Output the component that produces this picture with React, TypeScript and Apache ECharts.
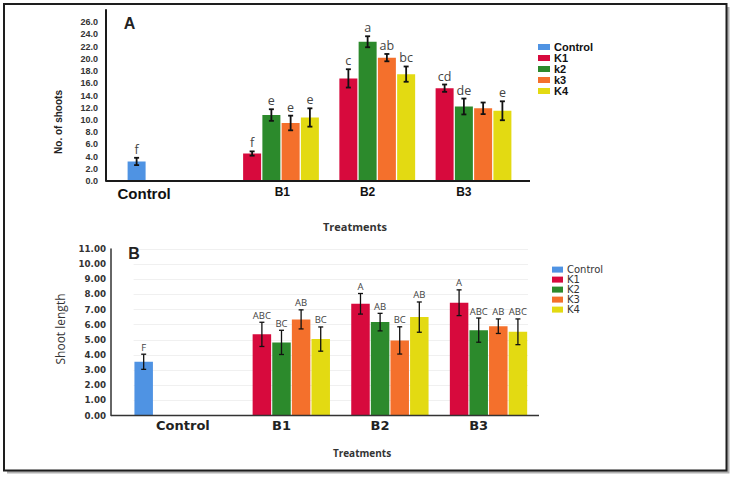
import React, { useEffect, useRef } from "react";
import * as echarts from "echarts";

const categories = ["Control", "B1", "B2", "B3"];

// Panel A: No. of shoots
const namesA = ["Control", "K1", "k2", "k3", "K4"];
const controlA = [3.2, null, null, null];
const k1A = [null, 4.5, 16.8, 15.2];
const k2A = [null, 10.8, 22.8, 12.2];
const k3A = [null, 9.5, 20.2, 11.9];
const k4A = [null, 10.4, 17.5, 11.5];
const controlAErr = [0.6, null, null, null];
const k1AErr = [null, 0.35, 1.5, 0.6];
const k2AErr = [null, 0.95, 0.9, 1.3];
const k3AErr = [null, 1.2, 0.6, 0.95];
const k4AErr = [null, 1.5, 1.25, 1.55];
const controlALetters = ["f", "", "", ""];
const k1ALetters = ["", "f", "c", "cd"];
const k2ALetters = ["", "e", "a", "de"];
const k3ALetters = ["", "e", "ab", ""];
const k4ALetters = ["", "e", "bc", "e"];

// Panel B: Shoot length
const namesB = ["Control", "K1", "K2", "K3", "K4"];
const controlB = [3.55, null, null, null];
const k1B = [null, 5.36, 7.38, 7.45];
const k2B = [null, 4.83, 6.17, 5.64];
const k3B = [null, 6.35, 4.96, 5.9];
const k4B = [null, 5.05, 6.5, 5.53];
const controlBErr = [0.5, null, null, null];
const k1BErr = [null, 0.8, 0.68, 0.85];
const k2BErr = [null, 0.8, 0.58, 0.8];
const k3BErr = [null, 0.63, 0.9, 0.48];
const k4BErr = [null, 0.8, 1.0, 0.85];
const controlBLetters = ["F", "", "", ""];
const k1BLetters = ["", "ABC", "A", "A"];
const k2BLetters = ["", "BC", "AB", "ABC"];
const k3BLetters = ["", "AB", "BC", "AB"];
const k4BLetters = ["", "BC", "AB", "ABC"];

const colors = ["#4f93e3", "#d70a3d", "#2c8a2c", "#f4702c", "#e3da12"];

const ARIAL = "'Liberation Sans', Arial, sans-serif";
const OPEN = "'Open Sans', 'Noto Sans', sans-serif";
const DEJAVU = "'DejaVu Sans', Verdana, sans-serif";

const BAR_W_A = 18;
const GAP_A = 0.07;
const BAR_W_B = 18.5;
const GAP_B = 0.06;

function barSeries(name: string, data: (number | null)[], idx: number, panel: number) {
  return {
    type: "bar",
    name,
    xAxisIndex: panel,
    yAxisIndex: panel,
    data: data.map((v) => (v == null ? "-" : v)),
    barWidth: panel === 0 ? BAR_W_A : BAR_W_B,
    barGap: panel === 0 ? GAP_A * 100 + "%" : GAP_B * 100 + "%",
    itemStyle: { color: colors[idx] },
    z: 2,
  };
}

function errSeries(
  data: (number | null)[],
  errs: (number | null)[],
  letters: string[],
  idx: number,
  panel: number
) {
  const items: any[] = [];
  const labs: string[] = [];
  data.forEach((v, i) => {
    if (v != null) {
      items.push([i, v, errs[i] ?? 0]);
      labs.push(letters[i] || "");
    }
  });
  const barW = panel === 0 ? BAR_W_A : BAR_W_B;
  const gap = panel === 0 ? GAP_A : GAP_B;
  const capW = panel === 0 ? 2.5 : 2.5;
  const lw = panel === 0 ? 1.8 : 1.3;
  const fontSize = panel === 0 ? 12.5 : 9.5;
  return {
    type: "custom",
    xAxisIndex: panel,
    yAxisIndex: panel,
    z: 5,
    data: items,
    renderItem: (params: any, api: any) => {
      const ci = api.value(0);
      const v = api.value(1);
      const e = api.value(2);
      const c = api.coord([ci, v]);
      const slot = barW * (1 + gap);
      const x = c[0] + (idx - 2) * slot;
      const yT = api.coord([ci, v + e])[1];
      const yB = api.coord([ci, v - e])[1];
      const st = { stroke: "#111", lineWidth: lw };
      return {
        type: "group",
        children: [
          { type: "line", shape: { x1: x, y1: yT, x2: x, y2: yB }, style: st },
          { type: "line", shape: { x1: x - capW, y1: yT, x2: x + capW, y2: yT }, style: st },
          { type: "line", shape: { x1: x - capW, y1: yB, x2: x + capW, y2: yB }, style: st },
          {
            type: "text",
            style: {
              text: labs[params.dataIndex],
              x: x,
              y: yT - 2,
              align: "center",
              verticalAlign: "bottom",
              fontSize,
              fontFamily: OPEN,
              fill: "#444",
            },
          },
        ],
      };
    },
  };
}

export default function App() {
  const ref = useRef<HTMLDivElement>(null);
  useEffect(() => {
    if (!ref.current) return;
    const chart = echarts.init(ref.current, null, { renderer: "svg" });
    const valsA = [controlA, k1A, k2A, k3A, k4A];
    const errsA = [controlAErr, k1AErr, k2AErr, k3AErr, k4AErr];
    const letA = [controlALetters, k1ALetters, k2ALetters, k3ALetters, k4ALetters];
    const valsB = [controlB, k1B, k2B, k3B, k4B];
    const errsB = [controlBErr, k1BErr, k2BErr, k3BErr, k4BErr];
    const letB = [controlBLetters, k1BLetters, k2BLetters, k3BLetters, k4BLetters];
    const labelKeys: Record<string, string> = { Control: "c", B1: "b1", B2: "b", B3: "b" };

    const series: any[] = [];
    namesA.forEach((n, i) => series.push(barSeries(n, valsA[i], i, 0)));
    namesB.forEach((n, i) => series.push(barSeries(n, valsB[i], i, 1)));
    namesA.forEach((n, i) => series.push(errSeries(valsA[i], errsA[i], letA[i], i, 0)));
    namesB.forEach((n, i) => series.push(errSeries(valsB[i], errsB[i], letB[i], i, 1)));

    chart.setOption({
      animation: false,
      backgroundColor: "#ffffff",
      grid: [
        { left: 127, top: 10, width: 385, height: 171 },
        { left: 133.6, top: 249, width: 394.4, height: 166.5 },
      ],
      xAxis: [
        {
          type: "category",
          gridIndex: 0,
          data: categories,
          axisLine: { show: false },
          axisTick: { show: false },
          axisLabel: {
            margin: 5,
            formatter: (v: string) => `{${labelKeys[v]}|${v}}`,
            rich: {
              c: { fontSize: 15, fontWeight: "bold", fontFamily: ARIAL, color: "#111", padding: [0, 62, 0, 0] },
              b1: { fontSize: 12, fontWeight: "bold", fontFamily: ARIAL, color: "#111", padding: [0, 0, 0, 22] },
              b: { fontSize: 12, fontWeight: "bold", fontFamily: ARIAL, color: "#111" },
            },
          },
        },
        {
          type: "category",
          gridIndex: 1,
          data: categories,
          axisLine: { show: false },
          axisTick: { show: false },
          axisLabel: {
            margin: 3,
            fontSize: 13,
            fontWeight: "bold",
            fontFamily: DEJAVU,
            color: "#222",
          },
        },
      ],
      yAxis: [
        {
          type: "value",
          gridIndex: 0,
          min: 0,
          max: 28,
          interval: 2,
          offset: 21,
          axisLine: { show: true, lineStyle: { color: "#1a1a1a", width: 2 } },
          axisTick: { show: false },
          splitLine: { show: false },
          axisLabel: {
            margin: 8,
            fontSize: 9,
            fontWeight: "bold",
            fontFamily: ARIAL,
            color: "#333",
            formatter: (v: number) => (v > 26 ? "" : v.toFixed(1)),
          },
        },
        {
          type: "value",
          gridIndex: 1,
          min: 0,
          max: 11,
          interval: 1,
          offset: 22.6,
          axisLine: { show: true, lineStyle: { color: "#333", width: 1.5 } },
          axisTick: { show: false },
          splitLine: { show: true, lineStyle: { color: "#f0f0f0", width: 1 } },
          axisLabel: {
            margin: 5,
            fontSize: 8.7,
            fontWeight: "bold",
            fontFamily: DEJAVU,
            color: "#333",
            formatter: (v: number) => v.toFixed(2),
          },
        },
      ],
      legend: [
        {
          orient: "vertical",
          left: 538,
          top: 41.5,
          padding: 0,
          itemWidth: 12,
          itemHeight: 6,
          itemGap: 0,
          icon: "rect",
          selectedMode: false,
          data: namesA,
          textStyle: { fontSize: 11, lineHeight: 11, fontWeight: "bold", fontFamily: ARIAL, color: "#111", padding: [0, 0, 0, -1] },
        },
        {
          orient: "vertical",
          left: 552,
          top: 264.6,
          padding: 0,
          itemWidth: 11,
          itemHeight: 6,
          itemGap: 0,
          icon: "rect",
          selectedMode: false,
          data: namesB,
          textStyle: { fontSize: 10, lineHeight: 8.8, fontFamily: DEJAVU, color: "#333", padding: [0, 0, 0, -1] },
        },
      ],
      graphic: [
        { type: "rect", z: -20, shape: { x: 7, y: 7, width: 722.5, height: 466.5 }, style: { fill: "#b0b0b0" } },
        { type: "rect", z: -10, shape: { x: 4, y: 4, width: 722.5, height: 466.5 }, style: { fill: "#ffffff", stroke: "#1e1e1e", lineWidth: 2 } },
        { type: "line", z: 10, shape: { x1: 106, y1: 181, x2: 530, y2: 181 }, style: { stroke: "#1a1a1a", lineWidth: 2 } },
        { type: "line", z: 10, shape: { x1: 111, y1: 415.5, x2: 539, y2: 415.5 }, style: { stroke: "#333", lineWidth: 1.5 } },
        { type: "text", z: 10, style: { text: "A", x: 129.5, y: 23, align: "center", verticalAlign: "middle", fontSize: 16, fontWeight: "bold", fontFamily: ARIAL, fill: "#222" } },
        { type: "text", z: 10, style: { text: "B", x: 134, y: 253, align: "center", verticalAlign: "middle", fontSize: 16, fontWeight: "bold", fontFamily: ARIAL, fill: "#222" } },
        { type: "text", z: 10, x: 58, y: 122, rotation: Math.PI / 2, style: { text: "No. of shoots", x: 0, y: 0, align: "center", verticalAlign: "middle", fontSize: 10, fontWeight: "bold", fontFamily: ARIAL, fill: "#222" } },
        { type: "text", z: 10, x: 60, y: 329, rotation: Math.PI / 2, style: { text: "Shoot length", x: 0, y: 0, align: "center", verticalAlign: "middle", fontSize: 12, fontFamily: OPEN, fill: "#333" } },
        { type: "text", z: 10, style: { text: "Treatments", x: 355, y: 226, align: "center", verticalAlign: "middle", fontSize: 11, fontWeight: "bold", fontFamily: OPEN, fill: "#333" } },
        { type: "text", z: 10, style: { text: "Treatments", x: 362, y: 452.7, align: "center", verticalAlign: "middle", fontSize: 10, fontWeight: "bold", fontFamily: OPEN, fill: "#333" } },
      ],
      series,
    });
    return () => chart.dispose();
  }, []);
  return <div ref={ref} style={{ position: "absolute", left: 0, top: 0, width: 733, height: 479 }} />;
}
